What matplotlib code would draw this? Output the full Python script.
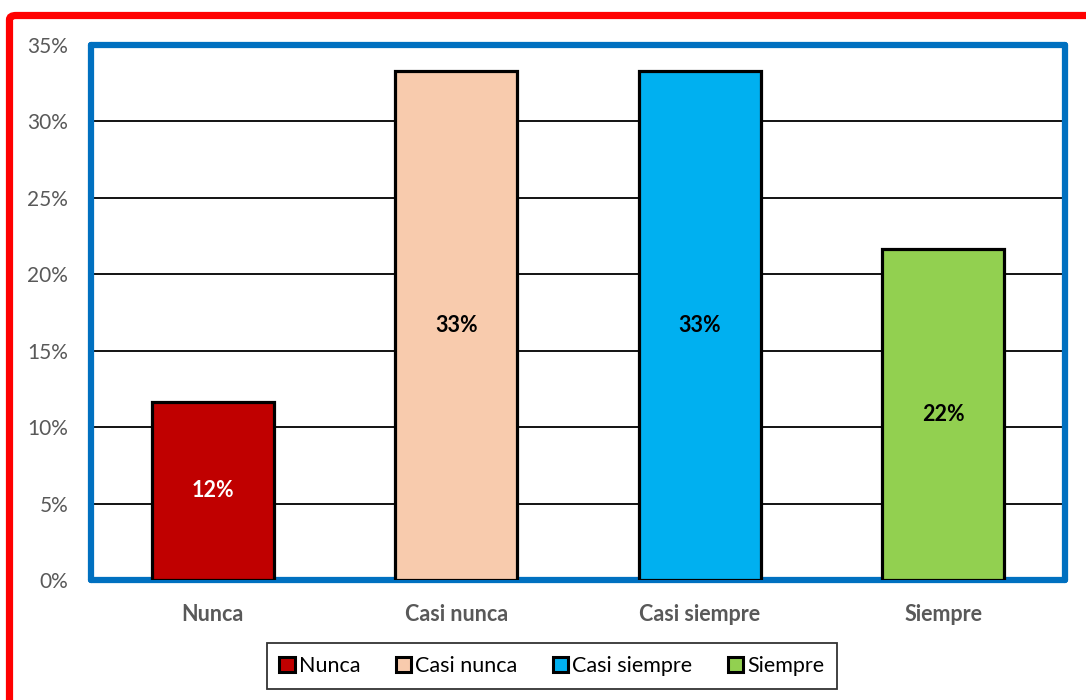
import matplotlib
matplotlib.use("Agg")
import matplotlib.pyplot as plt
from matplotlib.patches import FancyBboxPatch, Patch
from matplotlib.ticker import MultipleLocator, PercentFormatter

plt.rcParams['font.family'] = ['Lato', 'DejaVu Sans']

categories = ["Nunca", "Casi nunca", "Casi siempre", "Siempre"]
values = [11.67, 33.33, 33.33, 21.67]
colors = ["#C00000", "#F8CBAD", "#00B0F0", "#92D050"]
label_colors = ["white", "black", "black", "black"]

fig = plt.figure(figsize=(10.86, 7.0), dpi=100)
ax = fig.add_axes([91 / 1086, 1 - 580 / 700, (1065 - 91) / 1086, (580 - 45) / 700])

x = list(range(len(categories)))
bars = ax.bar(x, values, width=0.5, color=colors, edgecolor="black",
              linewidth=2.3, zorder=3)

for bar, v, c in zip(bars, values, label_colors):
    ax.text(bar.get_x() + bar.get_width() / 2, v / 2, f"{v:.0f}%",
            ha="center", va="center", fontsize=15.5, fontweight="bold",
            color=c, zorder=4)

ax.set_xlim(-0.5, len(categories) - 0.5)
ax.set_ylim(0, 35)
ax.yaxis.set_major_locator(MultipleLocator(5))
ax.yaxis.set_major_formatter(PercentFormatter(decimals=0))
ax.set_xticks(x)
ax.set_xticklabels(categories, fontsize=15.5, fontweight="bold", color="#595959")
ax.tick_params(axis="y", labelsize=15, labelcolor="#595959", length=0, pad=16.5)
ax.tick_params(axis="x", length=0, pad=17)
ax.grid(axis="y", color="black", linewidth=1.3, zorder=1)
ax.set_axisbelow(True)

for s in ax.spines.values():
    s.set_color("#0070C0")
    s.set_linewidth(4.5)
    s.set_capstyle("round")

handles = [Patch(facecolor=c, edgecolor="black", linewidth=2.2) for c in colors]
leg = fig.legend(handles, categories, loc="center",
                 bbox_to_anchor=(552 / 1086, 1 - 666 / 700), ncol=4,
                 fontsize=15.5, frameon=True, fancybox=False,
                 handlelength=0.7, handleheight=0.7, handletextpad=0.2,
                 columnspacing=1.65, borderpad=0.6)
leg.get_frame().set_edgecolor("black")
leg.get_frame().set_linewidth(1.3)

# outer red frame, running off the right and bottom edges
frame = FancyBboxPatch((9.5 / 1086, -0.1), 1.2, 1 - 15.5 / 700 + 0.1,
                       boxstyle="round,pad=0,rounding_size=0.006",
                       transform=fig.transFigure, fill=False,
                       edgecolor="#FF0000", linewidth=5.2, clip_on=False)
fig.patches.append(frame)

fig.savefig("out.png", dpi=100)
